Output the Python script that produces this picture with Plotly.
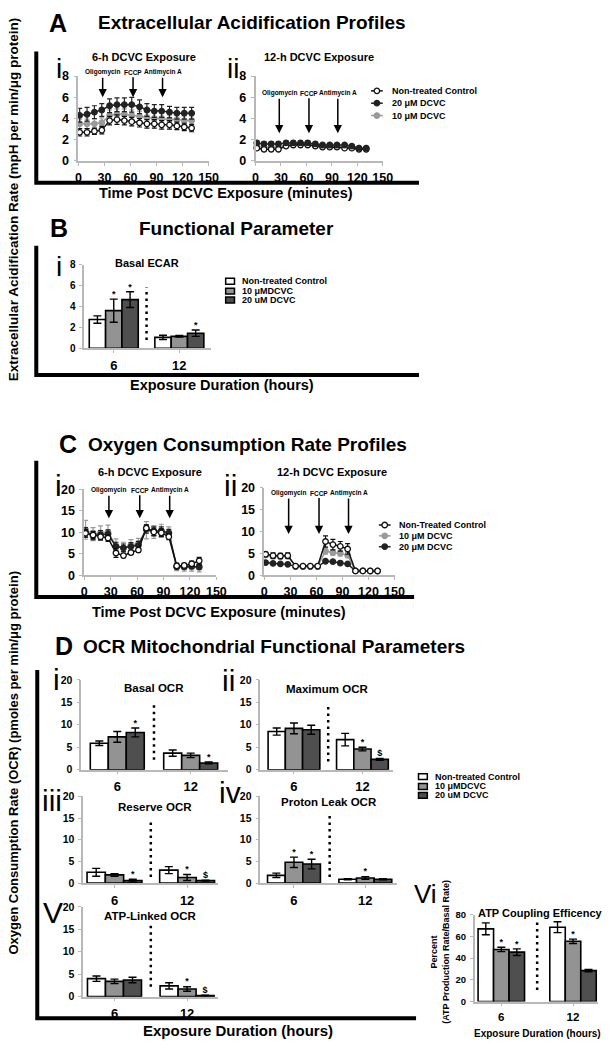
import plotly.graph_objects as go

W, H = 613, 1050
FONT = "Liberation Sans, Arial, Helvetica, sans-serif"

# ---------------- data ----------------
time_min = [1.5, 10, 18.5, 27, 36, 44.5, 53, 61.5, 70.5, 79, 87.5, 96, 105, 113.5, 122, 130.5]
injection_names = ["Oligomycin", "FCCP", "Antimycin A"]
injection_min = [28, 63, 97]

# A-i  ECAR, 6-h exposure
ecar6_ctrl = [2.7, 2.7, 2.8, 2.9, 3.8, 3.9, 3.8, 3.7, 3.6, 3.5, 3.5, 3.4, 3.4, 3.3, 3.2, 3.1]
ecar6_ctrl_err = [0.35, 0.35, 0.3, 0.35, 0.4, 0.45, 0.4, 0.4, 0.4, 0.4, 0.4, 0.4, 0.4, 0.35, 0.35, 0.35]
ecar6_10 = [3.5, 3.5, 3.5, 3.6, 4.3, 4.4, 4.4, 4.3, 4.2, 4.1, 4.0, 4.0, 3.9, 3.9, 3.8, 3.8]
ecar6_10_err = [0.45, 0.45, 0.45, 0.45, 0.5, 0.5, 0.5, 0.5, 0.5, 0.5, 0.5, 0.5, 0.45, 0.45, 0.45, 0.45]
ecar6_20 = [4.3, 4.4, 4.6, 4.8, 5.2, 5.3, 5.3, 5.3, 5.1, 4.8, 4.7, 4.7, 4.6, 4.5, 4.5, 4.5]
ecar6_20_err = [0.65, 0.65, 0.6, 0.6, 0.65, 0.65, 0.65, 0.7, 0.65, 0.6, 0.6, 0.6, 0.55, 0.55, 0.55, 0.55]

# A-ii ECAR, 12-h exposure
ecar12_ctrl = [1.2, 1.1, 1.1, 1.1, 1.4, 1.5, 1.5, 1.5, 1.4, 1.3, 1.3, 1.3, 1.2, 1.2, 1.1, 1.1]
ecar12_ctrl_err = [0.15, 0.15, 0.15, 0.15, 0.15, 0.15, 0.15, 0.15, 0.15, 0.15, 0.15, 0.15, 0.1, 0.1, 0.1, 0.1]
ecar12_10 = [1.4, 1.3, 1.3, 1.3, 1.5, 1.6, 1.6, 1.6, 1.5, 1.4, 1.4, 1.4, 1.3, 1.3, 1.2, 1.2]
ecar12_10_err = [0.2, 0.2, 0.2, 0.2, 0.2, 0.2, 0.2, 0.2, 0.2, 0.2, 0.2, 0.2, 0.15, 0.15, 0.15, 0.15]
ecar12_20 = [1.7, 1.6, 1.6, 1.6, 1.7, 1.7, 1.7, 1.7, 1.6, 1.5, 1.5, 1.5, 1.5, 1.4, 1.2, 1.2]
ecar12_20_err = [0.2, 0.2, 0.2, 0.2, 0.2, 0.2, 0.2, 0.2, 0.2, 0.15, 0.15, 0.15, 0.15, 0.15, 0.1, 0.1]

# C-i  OCR, 6-h exposure
ocr6_ctrl = [9.8, 9.4, 9.0, 8.7, 5.2, 4.6, 5.3, 5.9, 11.0, 10.1, 9.9, 9.0, 2.2, 2.3, 2.7, 3.4]
ocr6_ctrl_err = [0.9, 0.8, 0.8, 0.8, 1.0, 0.5, 0.5, 0.5, 0.6, 0.9, 0.9, 0.7, 0.6, 0.5, 0.6, 0.8]
ocr6_10 = [10.6, 9.6, 9.9, 10.0, 6.9, 6.3, 7.0, 7.4, 10.5, 10.1, 10.4, 10.0, 2.0, 1.9, 1.9, 1.8]
ocr6_10_err = [2.2, 1.5, 1.6, 1.7, 1.6, 1.4, 1.3, 1.2, 2.0, 1.5, 1.5, 1.3, 0.9, 0.9, 0.9, 1.0]
ocr6_20 = [10.0, 9.3, 9.4, 9.6, 6.7, 6.4, 6.7, 7.0, 10.8, 10.3, 10.3, 9.8, 2.0, 2.0, 2.1, 2.0]
ocr6_20_err = [1.1, 1.0, 1.0, 1.0, 1.0, 0.9, 0.9, 0.9, 1.0, 1.0, 1.0, 0.9, 0.5, 0.5, 0.5, 0.5]

# C-ii OCR, 12-h exposure
ocr12_ctrl = [4.8, 4.5, 4.4, 4.5, 2.1, 2.1, 2.1, 2.1, 7.7, 7.0, 6.6, 6.0, 1.0, 1.0, 1.0, 1.0]
ocr12_ctrl_err = [0.5, 0.6, 0.6, 0.6, 0.2, 0.2, 0.2, 0.2, 1.3, 1.2, 1.1, 1.2, 0.1, 0.1, 0.1, 0.1]
ocr12_10 = [4.6, 4.3, 4.3, 4.3, 2.1, 2.1, 2.1, 2.1, 5.5, 5.2, 5.0, 4.6, 1.0, 1.0, 1.0, 1.0]
ocr12_10_err = [0.5, 0.5, 0.5, 0.5, 0.2, 0.2, 0.2, 0.2, 0.7, 0.6, 0.6, 0.6, 0.1, 0.1, 0.1, 0.1]
ocr12_20 = [2.9, 2.7, 2.6, 2.5, 2.0, 2.0, 2.0, 2.0, 3.2, 3.1, 2.8, 2.6, 1.0, 1.0, 0.95, 0.95]
ocr12_20_err = [0.15, 0.15, 0.15, 0.15, 0.1, 0.1, 0.1, 0.1, 0.15, 0.15, 0.15, 0.15, 0.1, 0.1, 0.1, 0.1]

# bar panels (exposure duration groups)
groups = ["6", "12"]

basal_ecar_ctrl, basal_ecar_ctrl_err = [2.75, 1.05], [0.35, 0.2]
basal_ecar_10, basal_ecar_10_err = [3.6, 1.15], [1.1, 0.08]
basal_ecar_20, basal_ecar_20_err = [4.65, 1.45], [0.75, 0.3]
basal_ecar_sig = [["", ""], ["*", ""], ["*", "*"]]

basal_ocr_ctrl, basal_ocr_ctrl_err = [5.9, 3.7], [0.5, 0.7]
basal_ocr_10, basal_ocr_10_err = [7.3, 3.2], [1.2, 0.5]
basal_ocr_20, basal_ocr_20_err = [8.3, 1.5], [1.0, 0.2]
basal_ocr_sig = [["", ""], ["", ""], ["*", "*"]]

max_ocr_ctrl, max_ocr_ctrl_err = [8.5, 6.7], [0.8, 1.4]
max_ocr_10, max_ocr_10_err = [9.2, 4.6], [1.2, 0.4]
max_ocr_20, max_ocr_20_err = [8.9, 2.3], [1.0, 0.2]
max_ocr_sig = [["", ""], ["", "*"], ["", "$"]]

reserve_ocr_ctrl, reserve_ocr_ctrl_err = [2.5, 3.0], [0.9, 0.8]
reserve_ocr_10, reserve_ocr_10_err = [1.9, 1.3], [0.3, 0.7]
reserve_ocr_20, reserve_ocr_20_err = [0.6, 0.6], [0.3, 0.1]
reserve_ocr_sig = [["", ""], ["", "*"], ["*", "$"]]

leak_ocr_ctrl, leak_ocr_ctrl_err = [1.8, 0.9], [0.5, 0.15]
leak_ocr_10, leak_ocr_10_err = [4.8, 1.2], [1.2, 0.3]
leak_ocr_20, leak_ocr_20_err = [4.4, 0.9], [1.1, 0.15]
leak_ocr_sig = [["", ""], ["*", "*"], ["*", ""]]

atp_ocr_ctrl, atp_ocr_ctrl_err = [4.0, 2.4], [0.6, 0.7]
atp_ocr_10, atp_ocr_10_err = [3.4, 1.7], [0.5, 0.5]
atp_ocr_20, atp_ocr_20_err = [3.7, 0.25], [0.6, 0.05]
atp_ocr_sig = [["", ""], ["", "*"], ["", "$"]]

coupling_ctrl, coupling_ctrl_err = [67, 68.5], [5.5, 5]
coupling_10, coupling_10_err = [48, 55.5], [2, 2]
coupling_20, coupling_20_err = [45.5, 28.5], [3, 1]
coupling_sig = [["", ""], ["*", "*"], ["*", ""]]

labels_A = ["Non-treated Control", "20 μM DCVC", "10 μM DCVC"]
labels_C = ["Non-Treated Control", "10 μM DCVC", "20 μM DCVC"]
labels_bar = ["Non-treated Control", "10 μMDCVC", "20 uM DCVC"]

# ---------------- styles ----------------
GRAY = "#9a9a9a"
DARK = "#222222"
BAR_COLORS = ["#ffffff", "#939393", "#4f4f4f"]
AXIS_COLOR = "#b8b8b8"
STY = {
    "ctrl": dict(line="#111111", fill="#ffffff", edge="#111111"),
    "10": dict(line=GRAY, fill=GRAY, edge=GRAY),
    "20": dict(line=DARK, fill=DARK, edge=DARK),
}

fig = go.Figure()
layout_axes = {}
annotations = []
shapes = []


def ax_names(n):
    return ("x" if n == 1 else f"x{n}"), ("y" if n == 1 else f"y{n}")


def set_axes(n, box, xr, yr, xtickvals, ytickvals, xticktext=None, xfs=12.5, yfs=12.5, visible=True):
    l, r, t, b = box
    xk = "xaxis" if n == 1 else f"xaxis{n}"
    yk = "yaxis" if n == 1 else f"yaxis{n}"
    xa, ya = ax_names(n)
    common = dict(showgrid=False, zeroline=False, showline=True, linecolor=AXIS_COLOR, linewidth=1.6,
                  ticks="outside", ticklen=3, tickwidth=1.4, tickcolor=AXIS_COLOR, fixedrange=True,
                  visible=visible)
    layout_axes[xk] = dict(domain=[l / W, r / W], range=xr, anchor=ya, tickvals=xtickvals,
                           ticktext=xticktext, tickfont=dict(family=FONT, size=xfs, color="black", weight="bold"),
                           ticklabelstandoff=1, **common)
    layout_axes[yk] = dict(domain=[1 - b / H, 1 - t / H], range=yr, anchor=xa, tickvals=ytickvals,
                           tickfont=dict(family=FONT, size=yfs, color="black", weight="bold"),
                           ticklabelstandoff=2, **common)


def pann(text, x, y, size, bold=True, xanchor="center", angle=0, color="black"):
    if bold:
        y -= 2
    annotations.append(dict(text=(f"<b>{text}</b>" if bold else text), x=x / W, y=1 - y / H,
                            xref="paper", yref="paper", showarrow=False, xanchor=xanchor, yanchor="middle",
                            textangle=angle, font=dict(family=FONT, size=size, color=color)))


def line_panel(n, box, yr, ytick, series, tip, ay):
    set_axes(n, box, [0, 150], yr, [0, 30, 60, 90, 120, 150], ytick)
    xa, ya = ax_names(n)
    for y, err, key in series:
        s = STY[key]
        fig.add_trace(go.Scatter(
            x=time_min, y=y, xaxis=xa, yaxis=ya, mode="lines+markers", cliponaxis=False,
            line=dict(color=s["line"], width=1.5),
            marker=dict(size=5.5, color=s["fill"], line=dict(color=s["edge"], width=1.3)),
            error_y=dict(type="data", array=err, color=s["line"], thickness=1.2, width=2.5),
            showlegend=False, hoverinfo="skip"))
    for name, t in zip(injection_names, injection_min):
        annotations.append(dict(text=f"<b>{name}</b>", x=t, y=tip, xref=xa, yref=ya, ax=0, ay=ay,
                                showarrow=True, arrowhead=2, arrowsize=1.1, arrowwidth=1.5,
                                arrowcolor="black", standoff=0, font=dict(family=FONT, size=6.5, color="black")))


def bar_panel(n, box, xr, yr, ytick, bars, sig, w, divider, yfs=10.5, xfs=13):
    set_axes(n, box, xr, yr, list(range(len(groups))), ytick, xticktext=groups, xfs=xfs, yfs=yfs)
    xa, ya = ax_names(n)
    cats = list(range(len(groups)))
    for k, (vals, errs) in enumerate(bars):
        fig.add_trace(go.Bar(
            x=cats, y=vals, width=w, offset=(k - 1.5) * w, xaxis=xa, yaxis=ya,
            marker=dict(color=BAR_COLORS[k], line=dict(color="black", width=1.6)),
            error_y=dict(type="data", array=errs, color="black", thickness=1.4, width=4),
            showlegend=False, hoverinfo="skip"))
        fig.add_trace(go.Scatter(
            x=[c + (k - 1) * w for c in cats], y=[v + e for v, e in zip(vals, errs)],
            xaxis=xa, yaxis=ya, mode="text", text=sig[k], textposition="top center",
            textfont=dict(family=FONT, size=9, color="black", weight="bold"), cliponaxis=False,
            showlegend=False, hoverinfo="skip"))
    shapes.append(dict(type="line", xref=xa, yref=ya, x0=0.5, x1=0.5, y0=divider[0], y1=divider[1],
                       line=dict(color="black", width=2.5, dash="2.5px,4px")))


# ---------------- panels ----------------
line_panel(1, (77, 210, 70, 156), [0, 8], [0, 2, 4, 6, 8],
           [(ecar6_10, ecar6_10_err, "10"), (ecar6_20, ecar6_20_err, "20"), (ecar6_ctrl, ecar6_ctrl_err, "ctrl")],
           tip=6.0, ay=-25)
line_panel(2, (258, 388, 70, 156), [0, 8], [0, 2, 4, 6, 8],
           [(ecar12_10, ecar12_10_err, "10"), (ecar12_ctrl, ecar12_ctrl_err, "ctrl"), (ecar12_20, ecar12_20_err, "20")],
           tip=2.6, ay=-40)
bar_panel(3, (83, 213, 261, 346), [-0.45, 1.49], [0, 8], [0, 2, 4, 6, 8],
          [(basal_ecar_ctrl, basal_ecar_ctrl_err), (basal_ecar_10, basal_ecar_10_err), (basal_ecar_20, basal_ecar_20_err)],
          basal_ecar_sig, 0.249, (0.8, 5.8), yfs=10, xfs=13)
line_panel(4, (83, 218, 489, 576), [0, 20], [0, 5, 10, 15, 20],
           [(ocr6_10, ocr6_10_err, "10"), (ocr6_20, ocr6_20_err, "20"), (ocr6_ctrl, ocr6_ctrl_err, "ctrl")],
           tip=13.3, ay=-28)
line_panel(5, (267, 400, 487, 576), [0, 20], [0, 5, 10, 15, 20],
           [(ocr12_20, ocr12_20_err, "20"), (ocr12_10, ocr12_10_err, "10"), (ocr12_ctrl, ocr12_ctrl_err, "ctrl")],
           tip=9.4, ay=-41)
bar_panel(6, (80, 230, 682, 773), [-0.49, 1.51], [0, 20], [0, 5, 10, 15, 20],
          [(basal_ocr_ctrl, basal_ocr_ctrl_err), (basal_ocr_10, basal_ocr_10_err), (basal_ocr_20, basal_ocr_20_err)],
          basal_ocr_sig, 0.245, (2.2, 15))
bar_panel(7, (263, 398, 682, 773), [-0.49, 1.44], [0, 20], [0, 5, 10, 15, 20],
          [(max_ocr_ctrl, max_ocr_ctrl_err), (max_ocr_10, max_ocr_10_err), (max_ocr_20, max_ocr_20_err)],
          max_ocr_sig, 0.252, (1.8, 14.7))
bar_panel(8, (82, 220, 800, 888), [-0.43, 1.43], [0, 20], [0, 5, 10, 15, 20],
          [(reserve_ocr_ctrl, reserve_ocr_ctrl_err), (reserve_ocr_10, reserve_ocr_10_err), (reserve_ocr_20, reserve_ocr_20_err)],
          reserve_ocr_sig, 0.252, (1.4, 14.8))
bar_panel(9, (263, 403, 800, 888), [-0.47, 1.45], [0, 20], [0, 5, 10, 15, 20],
          [(leak_ocr_ctrl, leak_ocr_ctrl_err), (leak_ocr_10, leak_ocr_10_err), (leak_ocr_20, leak_ocr_20_err)],
          leak_ocr_sig, 0.247, (1.4, 15.5))
bar_panel(10, (82, 220, 912, 1003), [-0.43, 1.43], [0, 20], [0, 5, 10, 15, 20],
          [(atp_ocr_ctrl, atp_ocr_ctrl_err), (atp_ocr_10, atp_ocr_10_err), (atp_ocr_20, atp_ocr_20_err)],
          atp_ocr_sig, 0.248, (2.2, 16))
bar_panel(11, (482, 608, 920, 1008), [-0.37, 1.35], [0, 80], [0, 20, 40, 60, 80],
          [(coupling_ctrl, coupling_ctrl_err), (coupling_10, coupling_10_err), (coupling_20, coupling_20_err)],
          coupling_sig, 0.216, (10.7, 75.5), yfs=9.5, xfs=11.5)

# hidden pixel-space axis for legend glyphs
set_axes(12, (0, W, 0, H), [0, W], [H, 0], [], [], visible=False)
LX, LY = ax_names(12)


def line_legend(labels, keys, x, ys):
    for lab, key, y in zip(labels, keys, ys):
        s = STY[key]
        fig.add_trace(go.Scatter(x=[x - 6, x + 6], y=[y, y], xaxis=LX, yaxis=LY, mode="lines",
                                 line=dict(color=s["line"], width=1.5), showlegend=False, hoverinfo="skip"))
        fig.add_trace(go.Scatter(x=[x], y=[y], xaxis=LX, yaxis=LY, mode="markers",
                                 marker=dict(size=5.5, color=s["fill"], line=dict(color=s["edge"], width=1.3)),
                                 showlegend=False, hoverinfo="skip"))
        pann(lab, x + 13, y + 2, 9, xanchor="left")


def bar_legend(labels, x, ys):
    for k, (lab, y) in enumerate(zip(labels, ys)):
        shapes.append(dict(type="rect", xref=LX, yref=LY, x0=x - 4.5, x1=x + 4.5, y0=y - 3, y1=y + 3,
                           fillcolor=BAR_COLORS[k], line=dict(color="black", width=1.5)))
        pann(lab, x + 10, y + 2, 9, xanchor="left")


line_legend(labels_A, ["ctrl", "20", "10"], 382, [85, 97.5, 110])
bar_legend(labels_bar, 232, [278, 288, 297])
line_legend(labels_C, ["ctrl", "10", "20"], 390, [525, 536, 547])
bar_legend(labels_bar, 429, [780, 790, 799])

# ---------------- frames ----------------
def frame(x, ytop, ybot, xend):
    shapes.append(dict(type="path", xref="paper", yref="paper",
                       path=f"M {x / W} {1 - ytop / H} L {x / W} {1 - ybot / H} L {xend / W} {1 - ybot / H}",
                       line=dict(color="black", width=4)))


frame(34, 45, 178, 425)
frame(34, 242, 373, 425)
frame(34, 460, 598, 420)
frame(35, 672, 1025, 422)

# ---------------- texts ----------------
pann("Extracellular Acidification Rate (mpH per min/μg protein)", 11, 197, 13.5, angle=-90)
pann("Oxygen Consumption Rate (OCR) (pmoles per min/μg protein)", 11, 768, 13, angle=-90)

pann("A", 56, 18, 25)
pann("Extracellular Acidification Profiles", 95, 18, 19, xanchor="left")
pann("B", 57, 226, 25)
pann("Functional Parameter", 137, 226, 19, xanchor="left")
pann("C", 66, 445, 25)
pann("Oxygen Consumption Rate Profiles", 85, 445, 19, xanchor="left")
pann("D", 62, 650, 25)
pann("OCR Mitochondrial Functional Parameters", 80, 650, 19, xanchor="left")

pann("Time Post DCVC Exposure (minutes)", 228, 191, 14.5)
pann("Exposure Duration (hours)", 224, 385, 14.5)
pann("Time Post DCVC Exposure (minutes)", 221, 615, 14.5)
pann("Exposure Duration (hours)", 240, 1039, 15)

pann("6-h DCVC Exposure", 144, 53, 11)
pann("12-h DCVC Exposure", 323, 53, 11)
pann("Basal ECAR", 147, 261, 11)
pann("6-h DCVC Exposure", 150, 473, 11)
pann("12-h DCVC Exposure", 336, 473, 11)
pann("Basal OCR", 154, 692, 11.5)
pann("Maximum OCR", 331, 693, 11.5)
pann("Reserve OCR", 155, 813, 11.5)
pann("Proton Leak OCR", 333, 808, 11.5)
pann("ATP-Linked OCR", 150, 923, 11.5)
pann("ATP Coupling Efficency", 549, 920, 11)
pann("Percent<br>(ATP Production Rate/Basal Rate)", 447, 960, 9, angle=-90)
pann("Exposure Duration (hours)", 546, 1042, 10)

for txt, x, y, s in [("i", 57, 62, 28), ("ii", 235, 62, 28), ("i", 57, 263, 28),
                     ("i", 57, 485, 30), ("ii", 232, 485, 30),
                     ("i", 55, 682, 30), ("ii", 230, 683, 30), ("iii", 50, 804, 30),
                     ("iv", 232, 796, 30), ("V", 51, 918, 30), ("Vi", 432, 899, 26)]:
    pann(txt, x, y, s, bold=False)

fig.update_layout(
    width=W, height=H, margin=dict(l=0, r=0, t=0, b=0),
    paper_bgcolor="white", plot_bgcolor="rgba(0,0,0,0)",
    font=dict(family=FONT, color="black"),
    barmode="overlay", showlegend=False,
    annotations=annotations, shapes=shapes, **layout_axes)

fig.write_html("out.html", config={"displayModeBar": False},
               post_script="document.body.style.margin='0';document.body.style.padding='0';")
